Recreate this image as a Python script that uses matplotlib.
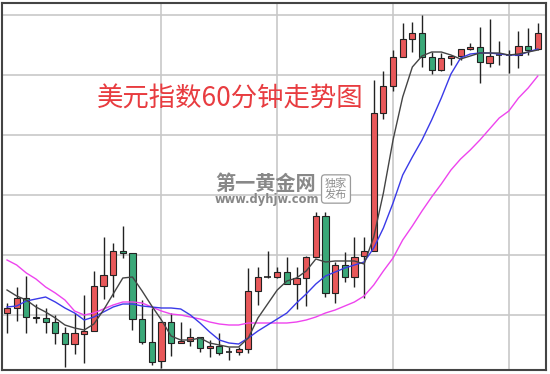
import matplotlib
matplotlib.use("Agg")
import matplotlib.pyplot as plt
import numpy as np

# hourly candles
opens = [96.002, 96.007, 96.017, 95.998, 95.997, 95.993, 95.982, 95.971, 95.981, 95.984,
         96.029, 96.040, 96.064, 96.062, 95.996, 95.973, 95.954, 95.993, 95.972, 95.974,
         95.978, 95.967, 95.969, 95.963, 95.963, 95.966, 96.024, 96.038, 96.038, 96.043,
         96.031, 96.037, 96.058, 96.099, 96.022, 96.050, 96.038, 96.059, 96.064, 96.202,
         96.229, 96.258, 96.276, 96.282, 96.258, 96.245, 96.257, 96.259, 96.266, 96.268,
         96.252, 96.260, 96.260, 96.260, 96.269, 96.266]
closes = [96.007, 96.017, 95.998, 95.997, 95.993, 95.982, 95.971, 95.982, 95.984, 96.029,
          96.040, 96.064, 96.062, 95.996, 95.973, 95.953, 95.993, 95.972, 95.974, 95.978,
          95.967, 95.969, 95.962, 95.963, 95.966, 96.024, 96.038, 96.038, 96.043, 96.031,
          96.037, 96.058, 96.099, 96.022, 96.050, 96.038, 96.058, 96.064, 96.202, 96.229,
          96.258, 96.276, 96.282, 96.258, 96.245, 96.257, 96.259, 96.266, 96.268, 96.253,
          96.259, 96.260, 96.260, 96.269, 96.265, 96.282]
highs = [96.012, 96.028, 96.039, 96.011, 96.007, 96.000, 95.988, 96.002, 96.020, 96.044,
         96.078, 96.072, 96.089, 96.062, 96.015, 96.007, 95.993, 96.002, 95.993, 95.987,
         95.978, 95.975, 95.982, 95.968, 95.968, 96.047, 96.048, 96.064, 96.048, 96.058,
         96.048, 96.059, 96.103, 96.103, 96.053, 96.063, 96.078, 96.078, 96.235, 96.244,
         96.265, 96.292, 96.293, 96.300, 96.263, 96.262, 96.259, 96.266, 96.272, 96.288,
         96.296, 96.274, 96.265, 96.284, 96.287, 96.292]
lows = [95.982, 95.994, 95.982, 95.992, 95.982, 95.971, 95.948, 95.961, 95.952, 95.984,
        96.016, 96.018, 96.057, 95.985, 95.971, 95.950, 95.947, 95.959, 95.972, 95.969,
        95.963, 95.958, 95.960, 95.955, 95.960, 95.962, 96.010, 96.037, 96.037, 96.031,
        96.006, 96.009, 96.058, 96.018, 96.012, 96.033, 96.028, 96.017, 96.064, 96.196,
        96.224, 96.258, 96.263, 96.248, 96.241, 96.244, 96.250, 96.255, 96.265, 96.232,
        96.248, 96.250, 96.242, 96.247, 96.260, 96.265]

# moving average lines as drawn
ma_short = [96.025, 96.019, 96.015, 96.008, 96.003, 95.997, 95.990, 95.987, 95.985, 95.991,
            96.005, 96.021, 96.037, 96.038, 96.024, 96.009, 95.995, 95.979, 95.975, 95.975,
            95.977, 95.972, 95.970, 95.968, 95.968, 95.977, 95.997, 96.011, 96.025, 96.034,
            96.037, 96.044, 96.056, 96.053, 96.054, 96.054, 96.054, 96.051, 96.078, 96.122,
            96.175, 96.218, 96.248, 96.259, 96.263, 96.263, 96.260, 96.256, 96.259, 96.262,
            96.262, 96.262, 96.260, 96.261, 96.263, 96.265]
ma_mid = [96.008, 96.009, 96.014, 96.016, 96.018, 96.013, 96.007, 96.002, 95.995, 95.998,
          96.003, 96.008, 96.011, 96.011, 96.009, 96.008, 96.007, 96.007, 96.006, 96.000,
          95.992, 95.983, 95.975, 95.972, 95.971, 95.977, 95.984, 95.990, 95.996, 96.002,
          96.012, 96.021, 96.031, 96.039, 96.043, 96.047, 96.050, 96.053, 96.067, 96.087,
          96.112, 96.140, 96.158, 96.175, 96.195, 96.217, 96.241, 96.257, 96.261, 96.262,
          96.262, 96.261, 96.260, 96.260, 96.263, 96.266]
ma_long = [96.055, 96.050, 96.042, 96.036, 96.028, 96.022, 96.015, 96.004, 96.000, 96.002,
           96.006, 96.010, 96.013, 96.013, 96.012, 96.008, 96.004, 96.001, 96.000, 95.998,
           95.996, 95.993, 95.991, 95.990, 95.990, 95.992, 95.992, 95.992, 95.992, 95.992,
           95.993, 95.995, 95.998, 96.002, 96.005, 96.009, 96.013, 96.019, 96.030, 96.044,
           96.057, 96.075, 96.089, 96.104, 96.118, 96.131, 96.145, 96.156, 96.165, 96.175,
           96.186, 96.197, 96.204, 96.217, 96.227, 96.239]

price_grid = [96.00, 96.06, 96.12, 96.18, 96.24, 96.30]
time_grid = [16, 28, 40, 52]

title = "美元指数60分钟走势图"

plt.rcParams["font.family"] = ["Noto Sans CJK SC", "DejaVu Sans"]

fig = plt.figure(figsize=(5.5, 3.74), dpi=100)
ax = fig.add_axes([2 / 550, 4 / 374, 544 / 550, 367 / 374])

x = np.arange(len(opens))
o = np.array(opens)
c = np.array(closes)
up = c > o
down = c < o
flat = c == o

ax.vlines(x, lows, highs, color="#222222", linewidth=1.0, zorder=2)
width = 0.64
ax.bar(x[up], (c - o)[up], bottom=o[up], width=width, color="#e8585a",
       edgecolor="#222222", linewidth=0.8, zorder=3)
ax.bar(x[down], (o - c)[down], bottom=c[down], width=width, color="#3aa878",
       edgecolor="#222222", linewidth=0.8, zorder=3)
ax.hlines(o[flat], x[flat] - width / 2, x[flat] + width / 2, color="#222222",
          linewidth=1.2, zorder=3)

ax.plot(x, ma_long, color="#ee44ee", linewidth=1.0, zorder=4)
ax.plot(x, ma_mid, color="#3a3ae8", linewidth=1.0, zorder=4)
ax.plot(x, ma_short, color="#444444", linewidth=1.0, zorder=4)

ax.set_xlim(-0.52, 55.85)
ax.set_ylim(95.945, 96.312)
ax.set_xticks(time_grid)
ax.set_yticks(price_grid)
ax.tick_params(length=0, labelbottom=False, labelleft=False)
ax.grid(True, color="#c8c8c8", linewidth=1.2, zorder=0)
ax.set_axisbelow(True)
for spine in ax.spines.values():
    spine.set_color("#444444")
    spine.set_linewidth(1.5)

# title inside the chart
fig.text(230 / 550, 1 - 99 / 374, title, color="#e83c40", fontsize=19,
         ha="center", va="center")

# watermark
fig.text(266 / 550, 1 - 184 / 374, "第一黄金网", color="#888888", fontsize=14.5,
         fontweight="heavy", ha="center", va="center")
fig.text(267 / 550, 1 - 200 / 374, "www.dyhjw.com", color="#888888", fontsize=8.3,
         fontweight="bold", ha="center", va="center", family="DejaVu Sans")
fig.text(336 / 550, 1 - 189 / 374, "独家\n发布", color="#8c8c8c", fontsize=8,
         ha="center", va="center", linespacing=1.05,
         bbox=dict(boxstyle="round,pad=0.3", facecolor="white", edgecolor="#9a9a9a",
                   linewidth=0.9))

fig.savefig("out.png", dpi=100)
